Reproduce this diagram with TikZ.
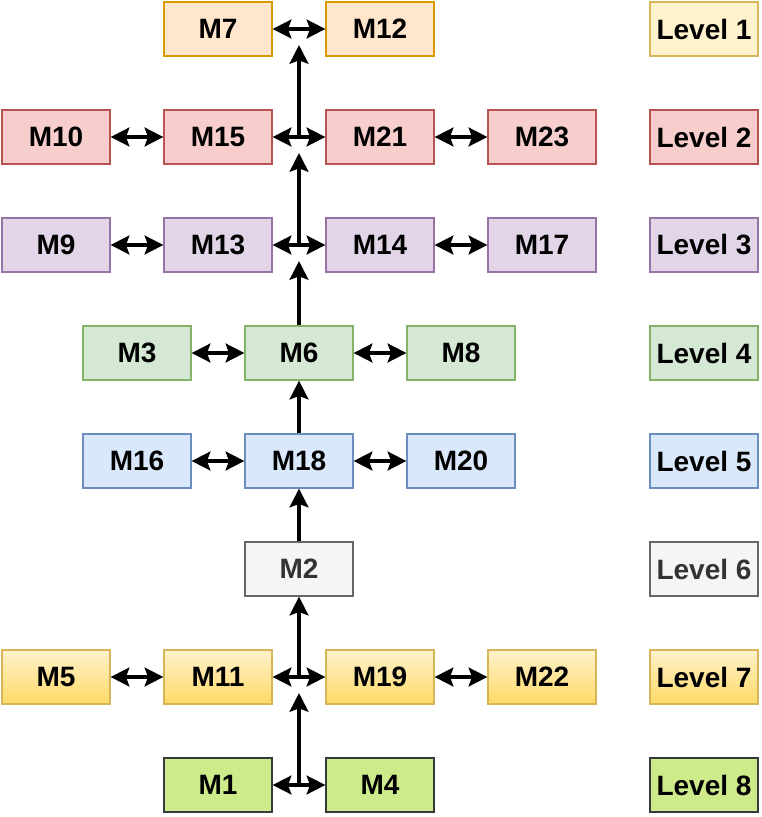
\documentclass[tikz,border=0pt]{standalone}
\usepackage{fontspec}
\setmainfont{Liberation Sans}
\usepackage{tikz}
\usepackage{xcolor}
\usetikzlibrary{positioning,arrows.meta,calc}

\definecolor{orfill}{HTML}{FFE6CC}\definecolor{ordraw}{HTML}{D79B00}
\definecolor{yefill}{HTML}{FFF2CC}\definecolor{yedraw}{HTML}{D6B656}
\definecolor{gofill}{HTML}{FFD966}
\definecolor{rdfill}{HTML}{F8CECC}\definecolor{rddraw}{HTML}{B85450}
\definecolor{pufill}{HTML}{E1D5E7}\definecolor{pudraw}{HTML}{9673A6}
\definecolor{gnfill}{HTML}{D5E8D4}\definecolor{gndraw}{HTML}{82B366}
\definecolor{blfill}{HTML}{DAE8FC}\definecolor{bldraw}{HTML}{6C8EBF}
\definecolor{gyfill}{HTML}{F5F5F5}\definecolor{gydraw}{HTML}{666666}
\definecolor{gytext}{HTML}{333333}
\definecolor{lmfill}{HTML}{CDEB8B}\definecolor{lmdraw}{HTML}{36393D}

\begin{document}
\begin{tikzpicture}[x=0.75pt, y=-0.75pt,
    box/.style={rectangle, draw, line width=0.9pt, minimum width=81pt, minimum height=40.5pt,
        inner sep=0pt, font=\fontsize{21pt}{25pt}\selectfont\bfseries},
    lv1/.style={box, fill=yefill, draw=yedraw},
    lv0/.style={box, fill=orfill, draw=ordraw},
    lv2/.style={box, fill=rdfill, draw=rddraw},
    lv3/.style={box, fill=pufill, draw=pudraw},
    lv4/.style={box, fill=gnfill, draw=gndraw},
    lv5/.style={box, fill=blfill, draw=bldraw},
    lv6/.style={box, fill=gyfill, draw=gydraw, text=gytext},
    lv7/.style={box, top color=yefill, bottom color=gofill, draw=yedraw},
    lv8/.style={box, fill=lmfill, draw=lmdraw},
    link/.style={line width=3pt, {Stealth[length=14pt, width=14pt, inset=2.5pt]}-{Stealth[length=14pt, width=14pt, inset=2.5pt]}},
    up/.style={line width=3pt, -{Stealth[length=14pt, width=14pt, inset=2.5pt]}}]

    \useasboundingbox (0,0) rectangle (762,817);

    % Level 1
    \node[lv0] (m7)  at (218,29) {M7};
    \node[lv0] (m12) at (380,29) {M12};
    \node[lv1] (l1)  at (704,29) {Level 1};

    % Level 2
    \node[lv2] (m10) at (56,137)  {M10};
    \node[lv2] (m15) at (218,137) {M15};
    \node[lv2] (m21) at (380,137) {M21};
    \node[lv2] (m23) at (542,137) {M23};
    \node[lv2] (l2)  at (704,137) {Level 2};

    % Level 3
    \node[lv3] (m9)  at (56,245)  {M9};
    \node[lv3] (m13) at (218,245) {M13};
    \node[lv3] (m14) at (380,245) {M14};
    \node[lv3] (m17) at (542,245) {M17};
    \node[lv3] (l3)  at (704,245) {Level 3};

    % Level 4
    \node[lv4] (m3) at (137,353) {M3};
    \node[lv4] (m6) at (299,353) {M6};
    \node[lv4] (m8) at (461,353) {M8};
    \node[lv4] (l4) at (704,353) {Level 4};

    % Level 5
    \node[lv5] (m16) at (137,461) {M16};
    \node[lv5] (m18) at (299,461) {M18};
    \node[lv5] (m20) at (461,461) {M20};
    \node[lv5] (l5)  at (704,461) {Level 5};

    % Level 6
    \node[lv6] (m2) at (299,569) {M2};
    \node[lv6] (l6) at (704,569) {Level 6};

    % Level 7
    \node[lv7] (m5)  at (56,677)  {M5};
    \node[lv7] (m11) at (218,677) {M11};
    \node[lv7] (m19) at (380,677) {M19};
    \node[lv7] (m22) at (542,677) {M22};
    \node[lv7] (l7)  at (704,677) {Level 7};

    % Level 8
    \node[lv8] (m1) at (218,785) {M1};
    \node[lv8] (m4) at (380,785) {M4};
    \node[lv8] (l8) at (704,785) {Level 8};

    % links inside a level
    \draw[link] (m7) -- (m12);
    \draw[link] (m10) -- (m15);
    \draw[link] (m15) -- (m21);
    \draw[link] (m21) -- (m23);
    \draw[link] (m9) -- (m13);
    \draw[link] (m13) -- (m14);
    \draw[link] (m14) -- (m17);
    \draw[link] (m3) -- (m6);
    \draw[link] (m6) -- (m8);
    \draw[link] (m16) -- (m18);
    \draw[link] (m18) -- (m20);
    \draw[link] (m5) -- (m11);
    \draw[link] (m11) -- (m19);
    \draw[link] (m19) -- (m22);
    \draw[link] (m1) -- (m4);

    % junctions on the middle column
    \coordinate (j1) at (299,45);
    \coordinate (j2) at (299,137);
    \coordinate (j2e) at (299,153);
    \coordinate (j3) at (299,245);
    \coordinate (j3e) at (299,261);
    \coordinate (j7) at (299,677);
    \coordinate (j7e) at (299,693);
    \coordinate (j8) at (299,785);

    % upward flow
    \draw[up] (j8) -- (j7e);
    \draw[up] (j7) -- (m2);
    \draw[up] (m2) -- (m18);
    \draw[up] (m18) -- (m6);
    \draw[up] (m6) -- (j3e);
    \draw[up] (j3) -- (j2e);
    \draw[up] (j2) -- (j1);
\end{tikzpicture}
\end{document}
